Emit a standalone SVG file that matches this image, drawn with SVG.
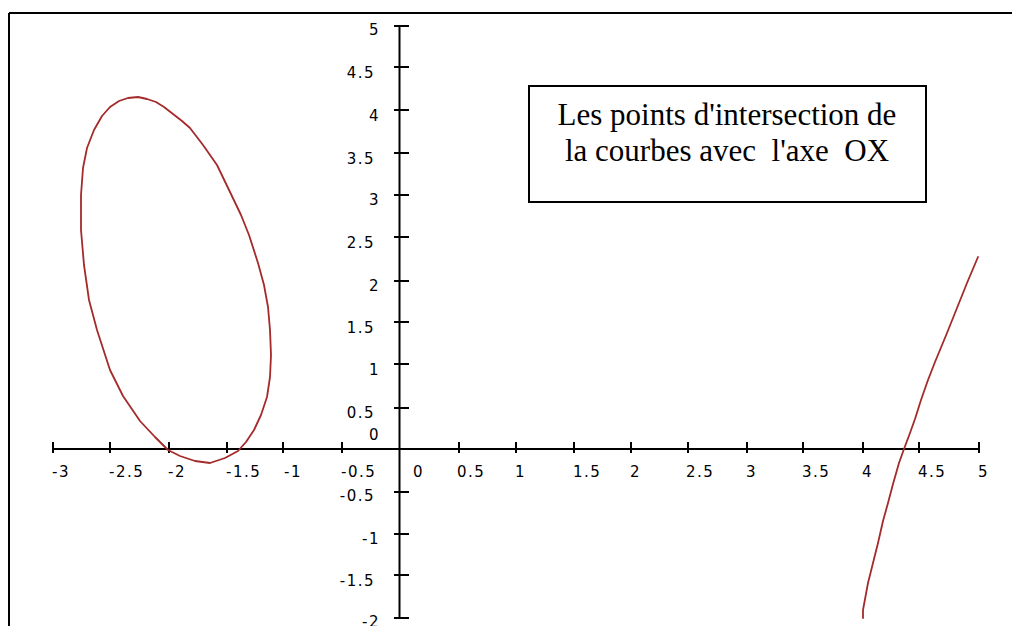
<svg xmlns="http://www.w3.org/2000/svg" width="1012" height="626" viewBox="0 0 1012 626">
<style>
.ax{stroke:#000;stroke-width:2;fill:none}
.tk{stroke:#000;stroke-width:2}
.lbl{font-family:"DejaVu Sans",sans-serif;font-size:15px;letter-spacing:1.5px;fill:#000}
.ylbl{font-family:"DejaVu Sans",sans-serif;font-size:15px;letter-spacing:1.5px;fill:#000;text-anchor:end}
.curve{stroke:#a52a2a;stroke-width:1.8;fill:none;stroke-linejoin:round;stroke-linecap:round}
.note{font-family:"Liberation Serif",serif;font-size:31px;fill:#000;text-anchor:middle;white-space:pre}
</style>
<rect width="1012" height="626" fill="#fff"/>
<g id="frame">
<line x1="9" y1="13" x2="1012" y2="13" class="ax"/>
<line x1="9" y1="13" x2="9" y2="626" class="ax"/>
</g>
<g id="x-axis">
<line x1="53" y1="449" x2="979" y2="449" class="ax"/>
<g class="tk">
<line x1="53" y1="442" x2="53" y2="453"/><line x1="110" y1="442" x2="110" y2="453"/><line x1="169" y1="442" x2="169" y2="453"/><line x1="227" y1="442" x2="227" y2="453"/><line x1="283" y1="442" x2="283" y2="453"/><line x1="342" y1="442" x2="342" y2="453"/><line x1="459" y1="442" x2="459" y2="453"/><line x1="516" y1="442" x2="516" y2="453"/><line x1="574" y1="442" x2="574" y2="453"/><line x1="631" y1="442" x2="631" y2="453"/><line x1="688" y1="442" x2="688" y2="453"/><line x1="747" y1="442" x2="747" y2="453"/><line x1="803" y1="442" x2="803" y2="453"/><line x1="863" y1="442" x2="863" y2="453"/><line x1="919" y1="442" x2="919" y2="453"/><line x1="979" y1="442" x2="979" y2="453"/>
</g>
<g class="lbl">
<text x="52" y="477">-3</text><text x="109" y="477">-2.5</text><text x="168" y="477">-2</text><text x="226" y="477">-1.5</text><text x="284" y="477">-1</text><text x="341" y="477">-0.5</text><text x="413" y="477">0</text><text x="457" y="477">0.5</text><text x="515" y="477">1</text><text x="573" y="477">1.5</text><text x="630" y="477">2</text><text x="686" y="477">2.5</text><text x="746" y="477">3</text><text x="802" y="477">3.5</text><text x="862" y="477">4</text><text x="918" y="477">4.5</text><text x="978" y="477">5</text>
</g>
</g>
<g id="y-axis">
<line x1="399.5" y1="26" x2="399.5" y2="618" class="ax"/>
<g class="tk">
<line x1="394" y1="26" x2="409" y2="26"/><line x1="394" y1="67" x2="409" y2="67"/><line x1="394" y1="110" x2="409" y2="110"/><line x1="394" y1="153" x2="409" y2="153"/><line x1="394" y1="195" x2="409" y2="195"/><line x1="394" y1="237" x2="409" y2="237"/><line x1="394" y1="281" x2="409" y2="281"/><line x1="394" y1="322" x2="409" y2="322"/><line x1="394" y1="364" x2="409" y2="364"/><line x1="394" y1="408" x2="409" y2="408"/><line x1="394" y1="492" x2="409" y2="492"/><line x1="394" y1="534" x2="409" y2="534"/><line x1="394" y1="575" x2="409" y2="575"/><line x1="394" y1="618" x2="409" y2="618"/>
</g>
<g class="ylbl">
<text x="380" y="35">5</text><text x="375" y="78">4.5</text><text x="380" y="121">4</text><text x="375" y="164">3.5</text><text x="380" y="205">3</text><text x="375" y="248">2.5</text><text x="380" y="291">2</text><text x="375" y="333">1.5</text><text x="380" y="375">1</text><text x="375" y="418">0.5</text><text x="380" y="440">0</text><text x="375" y="501">-0.5</text><text x="380" y="544">-1</text><text x="375" y="586">-1.5</text><text x="380" y="627">-2</text>
</g>
</g>
<g id="curves">
<path class="curve" d="M138,97 L147,99 L156,102 L164,107 L173,114 L182,121 L190,128 L203,145 L217,165 L230,192 L241,215 L249,235 L258,263 L264,285 L268,307 L270,330 L271,355 L270,377 L267,397 L261,415 L254,430 L246,442 L238,451 L225,458 L210,463 L195,461 L180,456 L168,450 L155,437 L140,421 L123,396 L110,370 L97,330 L89,300 L84,265 L81,230 L81,195 L83,168 L87,148 L94,130 L102,116 L110,107 L119,101 L128,98 Z"/>
<path class="curve" d="M863,618 L863,610 L868,583 L873,563 L878,543 L883,521 L888,503 L893,484 L899,463 L904,449 L910,433 L915,419 L921,400 L928,380 L935,362 L947,333 L957,308 L967,283 L978,257"/>
</g>
<g id="note">
<rect x="529" y="86" width="397" height="116" fill="#fff" stroke="#000" stroke-width="2"/>
<text class="note" x="727" y="125">Les points d'intersection de</text>
<text class="note" x="727" y="161">la courbes avec  l'axe  OX</text>
</g>
</svg>
